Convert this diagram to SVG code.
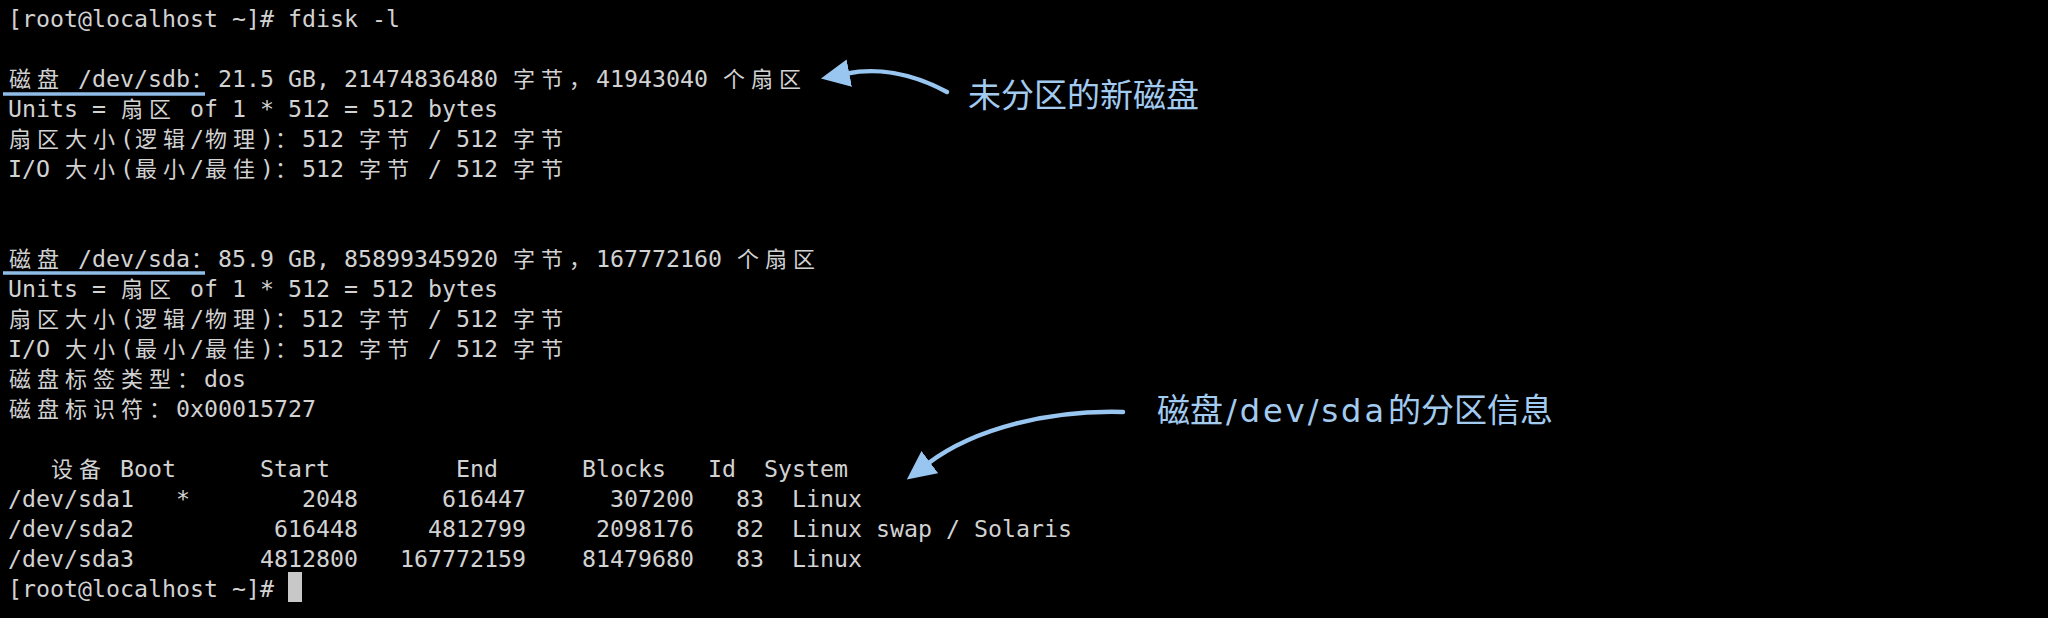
<svg xmlns="http://www.w3.org/2000/svg" width="2048" height="618" viewBox="0 0 2048 618">
<style>
.t{font-family:"DejaVu Sans Mono","Liberation Mono",monospace;font-size:23.25px;fill:#d2d2d2}
.c{font-family:"Noto Sans CJK SC","DejaVu Sans",sans-serif;font-size:22px}
.a{font-family:"Noto Sans CJK SC","DejaVu Sans",sans-serif;font-size:33px;fill:#a3cbf0}
.lat{font-family:"DejaVu Sans","Noto Sans",sans-serif;font-size:32px}
.ul{stroke:#8fbde8;stroke-width:3.5}
.conn{fill:none;stroke:#99c6f0;stroke-width:4.5;stroke-linecap:round}
</style>
<defs>
<marker id="ah" markerUnits="userSpaceOnUse" markerWidth="30" markerHeight="30" refX="2" refY="12" orient="auto" viewBox="0 0 26 24">
<path d="M0,0 L25,12 L0,24 Z" fill="#99c6f0"/>
</marker>
</defs>
<rect width="2048" height="618" fill="#000"/>
<g id="terminal">
<text class="t" x="8" y="27">[root@localhost ~]# fdisk -l</text>
<text class="t" y="87"><tspan class="c" x="9 37">磁盘</tspan><tspan x="78">/dev/sdb</tspan><tspan class="c" x="191">：</tspan><tspan x="218">21.5 GB, 21474836480</tspan><tspan class="c" x="513 541 569">字节，</tspan><tspan x="596">41943040</tspan><tspan class="c" x="723 751 779">个扇区</tspan></text>
<text class="t" y="117"><tspan x="8">Units =</tspan><tspan class="c" x="121 149">扇区</tspan><tspan x="190">of 1 * 512 = 512 bytes</tspan></text>
<text class="t" y="147"><tspan class="c" x="9 37 65 93">扇区大小</tspan><tspan x="120">(</tspan><tspan class="c" x="135 163">逻辑</tspan><tspan x="190">/</tspan><tspan class="c" x="205 233">物理</tspan><tspan x="260">)</tspan><tspan class="c" x="275">：</tspan><tspan x="302">512</tspan><tspan class="c" x="359 387">字节</tspan><tspan x="428">/ 512</tspan><tspan class="c" x="513 541">字节</tspan></text>
<text class="t" y="177"><tspan x="8">I/O</tspan><tspan class="c" x="65 93">大小</tspan><tspan x="120">(</tspan><tspan class="c" x="135 163">最小</tspan><tspan x="190">/</tspan><tspan class="c" x="205 233">最佳</tspan><tspan x="260">)</tspan><tspan class="c" x="275">：</tspan><tspan x="302">512</tspan><tspan class="c" x="359 387">字节</tspan><tspan x="428">/ 512</tspan><tspan class="c" x="513 541">字节</tspan></text>
<text class="t" y="267"><tspan class="c" x="9 37">磁盘</tspan><tspan x="78">/dev/sda</tspan><tspan class="c" x="191">：</tspan><tspan x="218">85.9 GB, 85899345920</tspan><tspan class="c" x="513 541 569">字节，</tspan><tspan x="596">167772160</tspan><tspan class="c" x="737 765 793">个扇区</tspan></text>
<text class="t" y="297"><tspan x="8">Units =</tspan><tspan class="c" x="121 149">扇区</tspan><tspan x="190">of 1 * 512 = 512 bytes</tspan></text>
<text class="t" y="327"><tspan class="c" x="9 37 65 93">扇区大小</tspan><tspan x="120">(</tspan><tspan class="c" x="135 163">逻辑</tspan><tspan x="190">/</tspan><tspan class="c" x="205 233">物理</tspan><tspan x="260">)</tspan><tspan class="c" x="275">：</tspan><tspan x="302">512</tspan><tspan class="c" x="359 387">字节</tspan><tspan x="428">/ 512</tspan><tspan class="c" x="513 541">字节</tspan></text>
<text class="t" y="357"><tspan x="8">I/O</tspan><tspan class="c" x="65 93">大小</tspan><tspan x="120">(</tspan><tspan class="c" x="135 163">最小</tspan><tspan x="190">/</tspan><tspan class="c" x="205 233">最佳</tspan><tspan x="260">)</tspan><tspan class="c" x="275">：</tspan><tspan x="302">512</tspan><tspan class="c" x="359 387">字节</tspan><tspan x="428">/ 512</tspan><tspan class="c" x="513 541">字节</tspan></text>
<text class="t" y="387"><tspan class="c" x="9 37 65 93 121 149 177">磁盘标签类型：</tspan><tspan x="204">dos</tspan></text>
<text class="t" y="417"><tspan class="c" x="9 37 65 93 121 149">磁盘标识符：</tspan><tspan x="176">0x00015727</tspan></text>
<text class="t" y="477"><tspan class="c" x="51 79">设备</tspan><tspan x="120">Boot</tspan><tspan x="260">Start</tspan><tspan x="456">End</tspan><tspan x="582">Blocks</tspan><tspan x="708">Id</tspan><tspan x="764">System</tspan></text>
<text class="t" y="507"><tspan x="8">/dev/sda1</tspan><tspan x="176">*</tspan><tspan x="302">2048</tspan><tspan x="442">616447</tspan><tspan x="610">307200</tspan><tspan x="736">83</tspan><tspan x="792">Linux</tspan></text>
<text class="t" y="537"><tspan x="8">/dev/sda2</tspan><tspan x="274">616448</tspan><tspan x="428">4812799</tspan><tspan x="596">2098176</tspan><tspan x="736">82</tspan><tspan x="792">Linux swap / Solaris</tspan></text>
<text class="t" y="567"><tspan x="8">/dev/sda3</tspan><tspan x="260">4812800</tspan><tspan x="400">167772159</tspan><tspan x="582">81479680</tspan><tspan x="736">83</tspan><tspan x="792">Linux</tspan></text>
<text class="t" x="8" y="597">[root@localhost ~]#</text>
<rect id="cursor" x="288" y="572" width="14" height="30" fill="#c8c8c8"/>
</g>
<g id="underlines">
<line class="ul" x1="3" y1="94" x2="205" y2="94"/>
<line class="ul" x1="3" y1="273" x2="205" y2="273"/>
</g>
<g id="connectors">
<path class="conn" d="M947,92 C910,72 875,68 847,73.5" marker-end="url(#ah)"/>
<path class="conn" d="M1123,412 C1050,410 975,428 928,463.5" marker-end="url(#ah)"/>
</g>
<g id="label-new-disk">
<text class="a" x="968" y="107">未分区的新磁盘</text>
</g>
<g id="label-partition-info">
<text class="a" y="422"><tspan x="1157">磁盘</tspan><tspan class="lat" x="1226" textLength="158" lengthAdjust="spacing">/dev/sda</tspan><tspan x="1388">的分区信息</tspan></text>
</g>
</svg>
